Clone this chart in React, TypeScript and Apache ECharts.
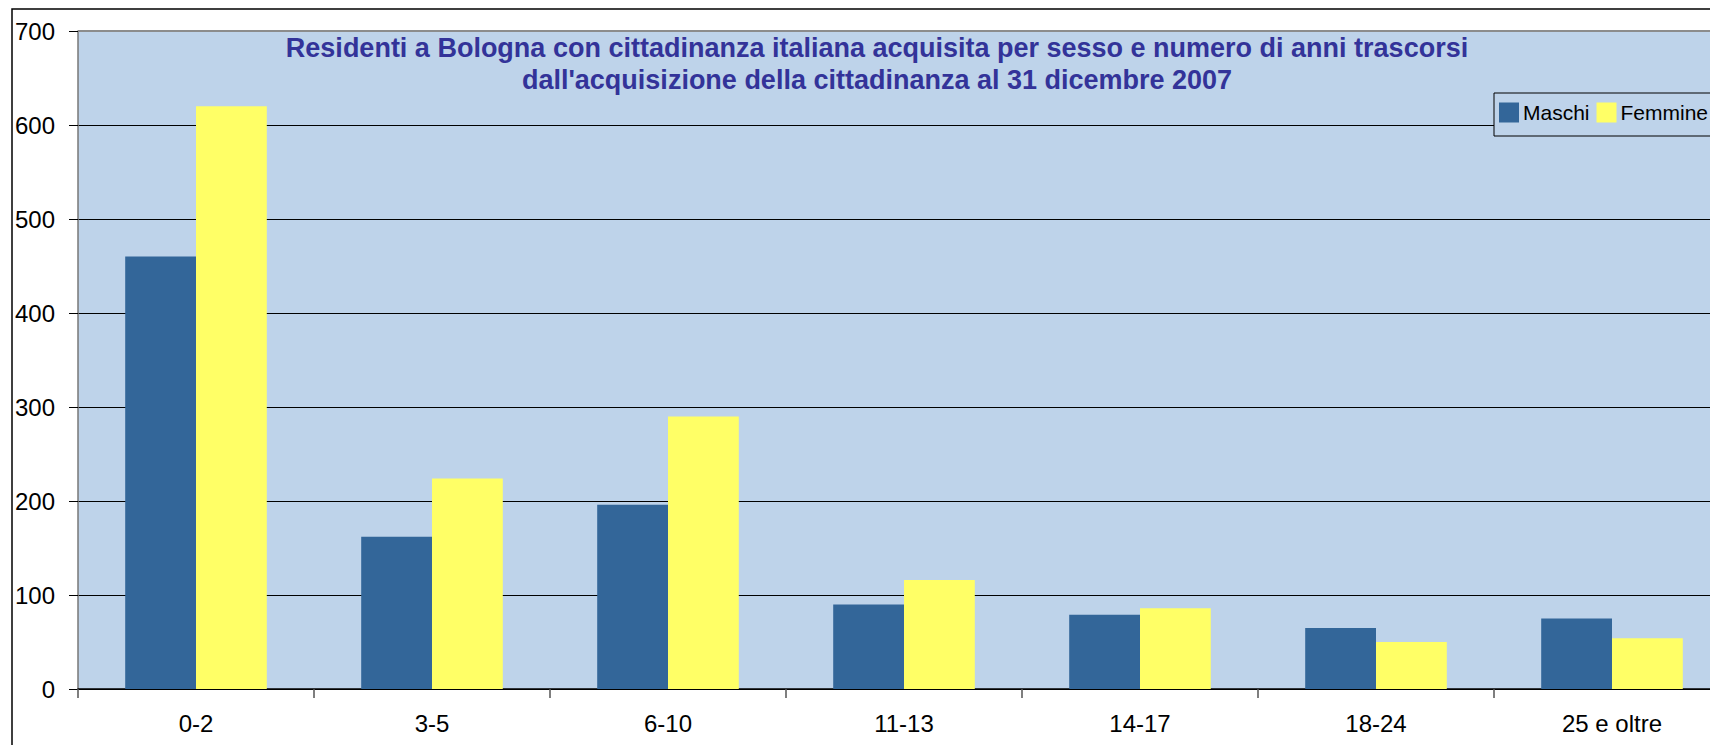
import React, { useEffect, useRef } from "react";
import * as echarts from "echarts";

const categories = ["0-2", "3-5", "6-10", "11-13", "14-17", "18-24", "25 e oltre"];
const maschi = [460, 162, 196, 90, 79, 65, 75];
const femmine = [620, 224, 290, 116, 86, 50, 54];
const titleLines = [
  "Residenti a Bologna con cittadinanza italiana acquisita per sesso e numero di anni trascorsi",
  "dall'acquisizione della cittadinanza al 31 dicembre 2007",
];

const FONT = "'Liberation Sans', Arial, sans-serif";

export default function App() {
  const ref = useRef<HTMLDivElement>(null);
  useEffect(() => {
    if (!ref.current) return;
    const chart = echarts.init(ref.current, null, { renderer: "svg" });
    chart.setOption({
      animation: false,
      backgroundColor: "#ffffff",
      title: {
        text: titleLines.join("\n"),
        left: 872,
        textAlign: "center",
        top: 27,
        textStyle: {
          fontFamily: FONT,
          fontSize: 27,
          fontWeight: "bold",
          color: "#333399",
          lineHeight: 32,
        },
      },
      legend: {
        orient: "horizontal",
        left: 1494,
        top: 93,
        width: 300,
        padding: [9, 10, 13, 5],
        itemWidth: 20,
        itemHeight: 20,
        itemGap: 7,
        icon: "rect",
        borderColor: "#000000",
        borderWidth: 1,
        backgroundColor: "#BED3EA",
        textStyle: { fontFamily: FONT, fontSize: 21, color: "#000000", padding: [0, 0, 0, -1] },
        data: ["Maschi", "Femmine"],
      },
      grid: {
        left: 78,
        top: 31,
        width: 1652,
        height: 658,
        outerBoundsMode: "none",
        containLabel: false,
        show: true,
        backgroundColor: "#BED3EA",
        borderWidth: 0,
      },
      xAxis: {
        type: "category",
        data: categories,
        boundaryGap: true,
        axisLine: { show: true, lineStyle: { color: "#000000", width: 1.5 } },
        axisTick: { show: true, length: 9, lineStyle: { color: "#555555", width: 1.5 } },
        axisLabel: { fontFamily: FONT, fontSize: 24, color: "#000000", margin: 22 },
        splitLine: { show: false },
      },
      yAxis: {
        type: "value",
        min: 0,
        max: 700,
        interval: 100,
        axisLine: { show: true, lineStyle: { color: "#777777", width: 1.5 } },
        axisTick: { show: true, length: 9, lineStyle: { color: "#000000" } },
        axisLabel: { fontFamily: FONT, fontSize: 24, color: "#000000", margin: 23 },
        splitLine: { show: true, lineStyle: { color: "#000000", width: 1.2 } },
      },
      series: [
        {
          name: "Maschi",
          type: "bar",
          data: maschi,
          barGap: "0%",
          barCategoryGap: "40%",
          itemStyle: { color: "#336699" },
        },
        {
          name: "Femmine",
          type: "bar",
          data: femmine,
          itemStyle: { color: "#FFFF66" },
        },
      ],
      graphic: [
        {
          type: "line",
          z: 100,
          shape: { x1: 78, y1: 31, x2: 1710, y2: 31 },
          style: { stroke: "#8c8c8c", lineWidth: 2 },
        },
        {
          type: "rect",
          z: 100,
          shape: { x: 12, y: 9, width: 1740, height: 780 },
          style: { fill: "none", stroke: "#000000", lineWidth: 1.5 },
        },
      ],
    });
    return () => chart.dispose();
  }, []);
  return (
    <div
      ref={ref}
      style={{ position: "fixed", left: 0, top: 0, width: 1710, height: 745 }}
    />
  );
}
